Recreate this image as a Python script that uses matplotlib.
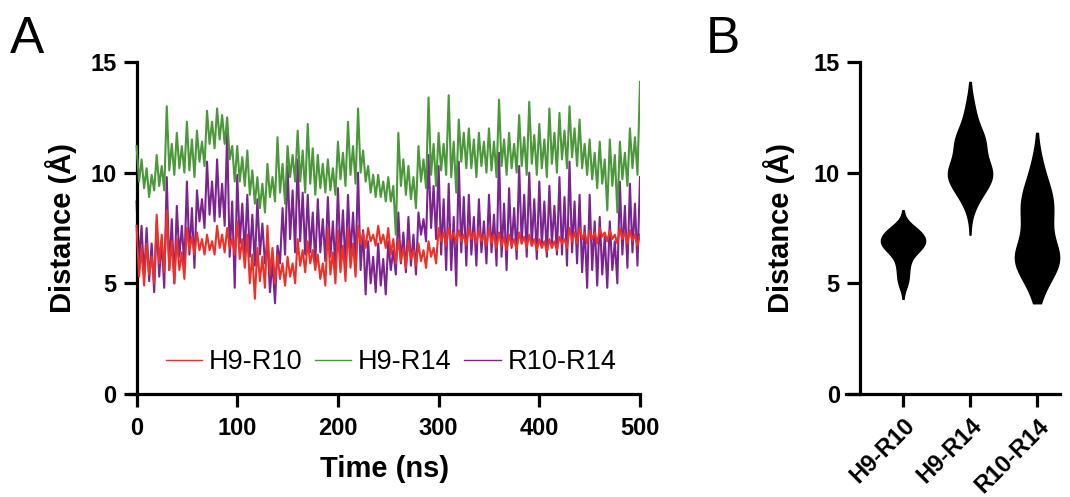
import numpy as np
import matplotlib
matplotlib.use("Agg")
import matplotlib.pyplot as plt

plt.rcParams['font.family'] = ['Liberation Sans', 'DejaVu Sans']

# time axis, one reading every 2.5 ns
time_ns = np.arange(0, 500.1, 2.5)

# distances (Angstrom), one row = 50 ns
h9_r10 = [7.6, 5.3, 6.6, 4.9, 6.8, 5.4, 6.2, 5.0, 8.1, 5.9, 7.2, 5.5, 8.3, 5.6, 6.9, 5.0, 7.0, 5.6, 6.4, 5.2,
          7.5, 6.5, 7.1, 6.3, 7.3, 6.5, 7.0, 6.3, 7.2, 6.5, 6.9, 6.3, 7.6, 6.6, 7.2, 6.4, 7.5, 6.6, 7.0, 6.3,
          7.8, 6.1, 7.0, 5.7, 7.2, 5.0, 6.3, 4.3, 6.6, 5.1, 6.2, 4.8, 7.6, 5.4, 6.6, 5.0, 6.3, 5.2, 5.9, 4.9,
          6.2, 5.3, 5.9, 5.0, 7.0, 5.8, 6.5, 5.5, 6.9, 5.9, 6.5, 5.6, 6.3, 5.2, 5.9, 4.9, 7.5, 5.4, 6.4, 5.0,
          7.4, 5.5, 6.7, 5.1, 7.5, 5.7, 6.8, 5.3, 7.6, 6.8, 7.3, 6.6, 7.5, 6.9, 7.2, 6.7, 7.6, 6.8, 7.2, 6.6,
          7.5, 6.3, 7.0, 5.9, 7.0, 6.0, 6.6, 5.7, 6.9, 6.1, 6.5, 5.8, 6.8, 6.0, 6.5, 5.7, 6.9, 6.2, 6.6, 5.9,
          7.5, 6.9, 7.3, 6.7, 7.5, 7.0, 7.3, 6.8, 7.4, 6.9, 7.2, 6.7, 7.5, 7.0, 7.3, 6.8, 7.4, 6.9, 7.2, 6.7,
          7.5, 6.8, 7.2, 6.6, 7.3, 6.7, 7.1, 6.5, 7.2, 6.7, 7.0, 6.5, 7.3, 6.8, 7.1, 6.6, 7.2, 6.7, 7.0, 6.5,
          7.0, 6.6, 6.9, 6.4, 7.0, 6.6, 6.9, 6.5, 7.1, 6.8, 7.0, 6.6, 7.5, 6.9, 7.3, 6.8, 7.5, 7.0, 7.3, 6.8,
          7.4, 7.0, 7.3, 6.8, 7.5, 7.1, 7.3, 6.9, 7.4, 7.0, 7.2, 6.8, 7.5, 7.0, 7.3, 6.8, 7.4, 6.9, 7.2, 6.7,
          7.2]

h9_r14 = [11.2, 9.6, 10.6, 9.3, 10.2, 8.9, 9.9, 9.2, 10.8, 9.4, 10.3, 9.2, 13.0, 10.1, 11.3, 9.9, 11.8, 10.2, 11.2, 10.0,
          12.3, 10.1, 11.5, 9.8, 11.9, 10.5, 11.4, 10.3, 12.8, 11.3, 12.3, 11.1, 12.9, 11.5, 12.6, 11.3, 12.5, 10.6, 11.2, 9.6,
          11.2, 9.6, 10.7, 9.4, 11.0, 9.0, 10.1, 8.6, 9.8, 8.4, 9.5, 8.2, 10.4, 8.9, 9.8, 8.7, 11.6, 9.1, 10.4, 8.6,
          11.2, 9.8, 10.8, 9.6, 11.9, 9.6, 11.0, 9.1, 12.2, 9.5, 11.1, 9.0, 10.8, 9.3, 10.4, 9.1, 10.6, 9.2, 10.2, 9.0,
          11.4, 9.7, 10.9, 9.4, 12.3, 9.9, 11.2, 9.5, 12.9, 10.0, 11.0, 9.6, 10.3, 9.1, 9.9, 8.9, 9.9, 8.9, 9.6, 8.7,
          9.8, 8.7, 9.4, 7.2, 11.8, 9.4, 10.6, 9.0, 10.3, 8.8, 9.8, 8.4, 11.2, 9.6, 10.6, 9.3, 13.4, 9.9, 11.3, 9.4,
          11.8, 10.1, 11.3, 9.9, 13.5, 9.8, 11.4, 9.1, 12.4, 10.5, 11.8, 10.2, 12.0, 10.2, 11.5, 9.8, 11.8, 10.3, 11.4, 10.0,
          12.0, 10.1, 11.4, 9.8, 13.3, 10.3, 11.5, 9.9, 11.8, 10.2, 11.3, 10.0, 12.6, 10.3, 11.6, 9.9, 13.2, 10.4, 11.7, 9.9,
          12.2, 10.2, 11.5, 9.8, 12.9, 10.4, 11.8, 10.0, 12.7, 10.6, 11.9, 10.2, 13.0, 10.7, 12.0, 10.3, 12.4, 10.2, 11.3, 9.9,
          11.5, 9.7, 10.9, 9.3, 11.4, 9.5, 10.6, 8.3, 11.5, 9.4, 10.8, 8.2, 11.4, 9.7, 10.9, 9.4, 12.0, 10.2, 11.6, 9.9,
          14.1]

r10_r14 = [8.7, 6.0, 7.6, 5.3, 7.5, 5.1, 6.8, 4.6, 7.8, 5.3, 6.9, 4.8, 9.8, 5.6, 7.9, 5.0, 8.5, 6.2, 7.6, 5.8,
           9.6, 6.3, 8.4, 5.7, 9.2, 7.8, 8.8, 7.5, 10.5, 8.1, 9.6, 7.8, 10.6, 8.0, 9.5, 7.6, 11.8, 6.2, 8.7, 4.8,
           9.9, 6.8, 8.6, 6.3, 9.0, 6.2, 8.1, 5.8, 8.8, 6.3, 7.7, 5.9, 6.9, 4.6, 6.0, 4.1, 6.7, 5.9, 8.4, 6.3,
           10.3, 7.0, 9.2, 6.4, 10.6, 6.9, 9.1, 6.3, 9.0, 6.4, 8.2, 5.9, 8.8, 6.4, 7.9, 6.0, 8.9, 6.2, 7.8, 5.7,
           9.3, 6.2, 8.3, 5.7, 9.0, 6.3, 8.2, 5.9, 10.0, 5.6, 7.4, 4.5, 6.9, 5.0, 6.2, 4.6, 6.8, 4.9, 6.1, 4.5,
           6.9, 5.6, 6.5, 5.4, 8.2, 5.9, 7.3, 5.5, 8.0, 5.8, 7.2, 5.4, 8.2, 7.2, 7.9, 6.9, 10.8, 7.5, 9.4, 7.0,
           10.3, 6.3, 8.8, 5.6, 9.5, 5.6, 8.0, 4.9, 10.5, 6.4, 8.9, 5.8, 9.0, 6.3, 8.0, 5.8, 8.8, 6.4, 7.8, 5.9,
           9.0, 6.4, 8.1, 5.8, 10.9, 6.2, 8.6, 5.6, 9.3, 6.6, 8.4, 6.1, 10.3, 6.8, 9.0, 6.2, 10.0, 6.7, 8.8, 6.1,
           9.6, 6.7, 8.7, 6.2, 9.4, 6.8, 8.5, 6.3, 9.8, 6.3, 8.9, 5.8, 10.5, 6.4, 8.7, 5.9, 9.0, 5.5, 7.6, 4.8,
           9.0, 5.6, 7.8, 4.9, 8.0, 5.4, 7.1, 4.8, 7.8, 5.6, 6.9, 5.0, 9.6, 6.3, 8.5, 5.7, 9.5, 6.4, 8.6, 5.8,
           9.8]

pair_names = ['H9-R10', 'H9-R14', 'R10-R14']
pair_colors = ['#EC3228', '#4A9839', '#7B2490']
y_ticks = [0, 5, 10, 15]
x_ticks = [0, 100, 200, 300, 400, 500]

W, H = 1070, 497
fig = plt.figure(figsize=(W / 100, H / 100), dpi=100)

def style_axis(ax):
    for side in ['top', 'right']:
        ax.spines[side].set_visible(False)
    for side in ['left', 'bottom']:
        ax.spines[side].set_linewidth(2.3)
    ax.tick_params(width=2.3, length=9.5, labelsize=17, pad=5)
    for lab in ax.get_xticklabels() + ax.get_yticklabels():
        lab.set_fontweight('bold')

# ---- panel A: time series
axA = fig.add_axes([130 / W, 1 - 394 / H, 510 / W, 332 / H])
all_series = [h9_r10, h9_r14, r10_r14]
zorders = [4, 3, 2]
for name, col, data, z in zip(pair_names, pair_colors, all_series, zorders):
    axA.plot(time_ns, data, color=col, lw=1.5, label=name, zorder=z)
axA.set_xlim(-6.5, 500)
axA.set_ylim(0, 15)
axA.spines['left'].set_position(('data', 0))
axA.set_xticks(x_ticks)
axA.set_yticks(y_ticks)
style_axis(axA)
axA.tick_params(axis='x', pad=7)
axA.set_xlabel('Time (ns)', fontsize=21, fontweight='bold', labelpad=11)
axA.set_ylabel('Distance (Å)', fontsize=21, fontweight='bold')
axA.yaxis.set_label_coords(-0.104, 0.5)
leg = axA.legend(loc='center left', bbox_to_anchor=(0.07, 0.096), ncol=3, frameon=False,
                 fontsize=19.5, handlelength=1.35, handletextpad=0.25, columnspacing=0.45,
                 borderpad=0, borderaxespad=0)
for line in leg.get_lines():
    line.set_linewidth(1.0)

# ---- panel B: violins
axB = fig.add_axes([846 / W, 1 - 394 / H, 214 / W, 332 / H])
parts = axB.violinplot(all_series, positions=[1, 2, 3], widths=0.66, bw_method=0.42,
                       showextrema=False)
for body in parts['bodies']:
    body.set_facecolor('black')
    body.set_edgecolor('black')
    body.set_alpha(1)
axB.set_xlim(0.149, 3.343)
axB.set_ylim(0, 15)
axB.spines['left'].set_position(('data', 0.358))
axB.set_yticks(y_ticks)
axB.set_xticks([1, 2, 3])
axB.set_xticklabels(pair_names)
style_axis(axB)
for lab in axB.get_xticklabels():
    lab.set_rotation(45)
    lab.set_ha('right')
    lab.set_rotation_mode('anchor')
axB.set_ylabel('Distance (Å)', fontsize=21, fontweight='bold')
axB.yaxis.set_label_coords(-0.238, 0.5)

fig.text(10 / W, 1 - 53 / H, 'A', fontsize=37)
fig.text(706 / W, 1 - 53 / H, 'B', fontsize=37)

fig.savefig('out.png', dpi=100)
